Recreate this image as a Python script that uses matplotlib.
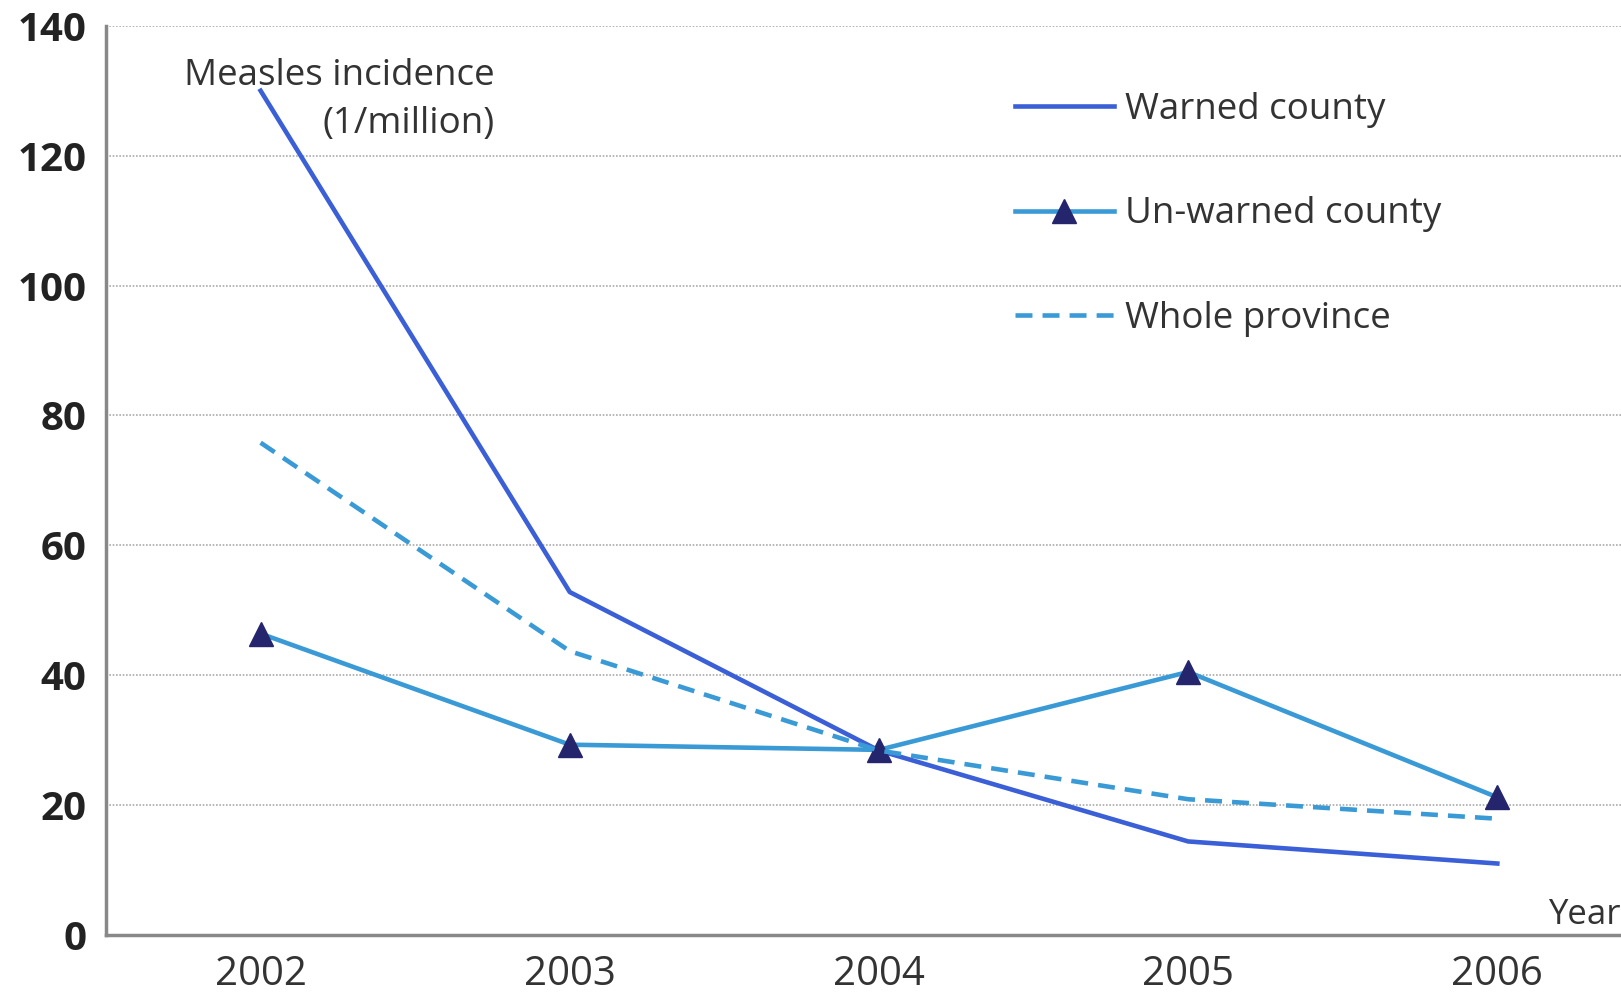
import matplotlib
matplotlib.use("Agg")
import matplotlib.pyplot as plt

years = ["2002", "2003", "2004", "2005", "2006"]
warned = [130.0, 52.8, 28.4, 14.4, 11.0]
unwarned = [46.4, 29.3, 28.5, 40.5, 21.2]
province = [75.8, 43.7, 28.4, 20.9, 17.9]
yticks = [0, 20, 40, 60, 80, 100, 120, 140]

plt.rcParams['font.family'] = ['Open Sans', 'DejaVu Sans']

fig = plt.figure(figsize=(16.21, 9.92), dpi=100)
ax = fig.add_axes([0.0654, 0.0575, 0.9346, 0.9165])

x = list(range(len(years)))
ax.plot(x, warned, color='#3b5fd6', lw=3.3, label='Warned county')
ax.plot(x, unwarned, color='#3a9ad6', lw=3.3, marker='^', markersize=17,
        markerfacecolor='#25256e', markeredgecolor='#25256e', label='Un-warned county')
ax.plot(x, province, color='#3a9ad6', lw=3.3, ls=(0, (3.7, 2.2)), label='Whole province')

ax.set_xlim(-0.5, 4.4)
ax.set_ylim(0, 140)
ax.set_xticks(x)
ax.set_xticklabels(years, fontsize=29, color='#333333')
ax.set_yticks(yticks)
ax.set_yticklabels([str(v) for v in yticks], fontsize=29, fontweight='bold', color='#222222')
ax.tick_params(axis='y', length=0, pad=14)
ax.tick_params(axis='x', length=0, pad=14)

for s in ['top', 'right']:
    ax.spines[s].set_visible(False)
for s in ['left', 'bottom']:
    ax.spines[s].set_color('#888888')
    ax.spines[s].set_linewidth(2.5)
ax.yaxis.grid(True, ls=(0, (1, 1)), color='#aaaaaa', lw=1.2)
ax.set_axisbelow(True)

ax.text(0.757, 135.0, "Measles incidence\n(1/million)", fontsize=26.5, color='#333333',
        ha='right', va='top', linespacing=1.45)
ax.text(4.165, 0.4, "Year", fontsize=25, color='#333333', ha='left', va='bottom')

leg = ax.legend(loc='upper left', bbox_to_anchor=(0.590, 0.943), frameon=False, fontsize=26.5,
                handlelength=2.7, handletextpad=0.3, labelspacing=1.85, borderaxespad=0)
for t in leg.get_texts():
    t.set_color('#333333')

fig.savefig("out.png", dpi=100)
